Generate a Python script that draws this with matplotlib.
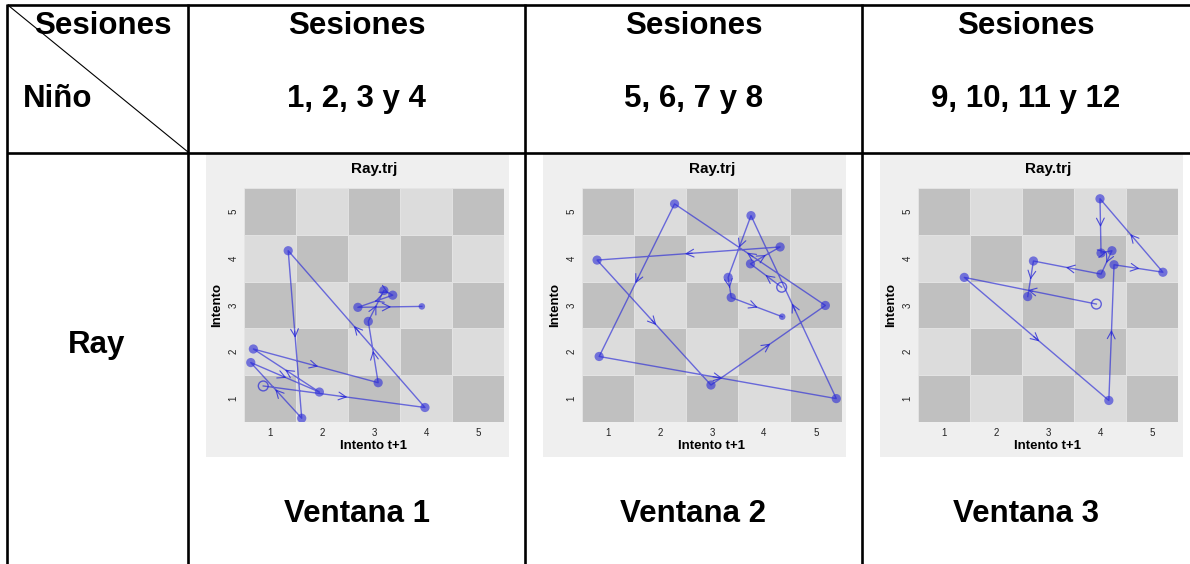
import numpy as np
import matplotlib
matplotlib.use("Agg")
import matplotlib.pyplot as plt
from matplotlib.patches import Rectangle

plt.rcParams['font.family'] = ['Liberation Sans', 'DejaVu Sans']

# ---- table text ----
corner_top = "Sesiones"
corner_bottom = "Niño"
session_titles = ["Sesiones", "Sesiones", "Sesiones"]
session_ranges = ["1, 2, 3 y 4", "5, 6, 7 y 8", "9, 10, 11 y 12"]
child_name = "Ray"
window_labels = ["Ventana 1", "Ventana 2", "Ventana 3"]
plot_title = "Ray.trj"
x_label = "Intento t+1"
y_label = "Intento"
grid_ticks = [1, 2, 3, 4, 5]

# ---- trajectories (first point = start, drawn hollow) ----
w1_x = [0.87, 3.98, 1.35, 1.61, 0.63, 1.95, 0.68, 3.08, 2.89, 3.19, 3.36, 2.69, 3.92]
w1_y = [1.27, 0.81, 4.16, 0.58, 1.77, 1.14, 2.06, 1.34, 2.65, 3.31, 3.21, 2.95, 2.97]

w2_x = [4.34, 3.74, 4.31, 0.79, 2.98, 5.18, 2.28, 0.83, 5.39, 3.75, 3.31, 3.37, 4.35]
w2_y = [3.38, 3.88, 4.24, 3.96, 1.29, 2.99, 5.16, 1.90, 1.00, 4.91, 3.59, 3.16, 2.75]

w3_x = [3.93, 1.39, 4.17, 4.27, 5.21, 4.00, 4.02, 4.23, 4.02, 2.72, 2.61]
w3_y = [3.02, 3.59, 0.96, 3.86, 3.70, 5.27, 4.11, 4.16, 3.66, 3.94, 3.18]

windows = [(w1_x, w1_y, True), (w2_x, w2_y, True), (w3_x, w3_y, False)]

W, H = 1190, 564
fig = plt.figure(figsize=(W / 100, H / 100), dpi=100)
fig.patch.set_facecolor('white')

# overlay axes in pixel coordinates for the table frame
tab = fig.add_axes([0, 0, 1, 1])
tab.set_xlim(0, W)
tab.set_ylim(H, 0)
tab.axis('off')

col_edges = [7, 188, 525, 862, W]
row_top, row_mid = 5, 153
lw_frame = 1.9
tab.plot([7, W], [row_top, row_top], color='black', lw=lw_frame, solid_capstyle='butt')
tab.plot([7, W], [row_mid, row_mid], color='black', lw=lw_frame, solid_capstyle='butt')
for xe in col_edges[:-1]:
    tab.plot([xe, xe], [row_top - 1, H], color='black', lw=lw_frame, solid_capstyle='butt')
tab.plot([9, 188], [6, 152], color='black', lw=0.8)

fs = 22.5
tab.text(103, 26, corner_top, ha='center', va='center', fontsize=fs, fontweight='bold')
tab.text(23, 99, corner_bottom, ha='left', va='center', fontsize=fs, fontweight='bold')
col_centers = [(col_edges[i] + col_edges[i + 1]) / 2 for i in range(1, 4)]
for cx, t1, t2, wl in zip(col_centers, session_titles, session_ranges, window_labels):
    tab.text(cx, 26, t1, ha='center', va='center', fontsize=fs, fontweight='bold')
    tab.text(cx, 99, t2, ha='center', va='center', fontsize=fs, fontweight='bold')
    tab.text(cx, 514, wl, ha='center', va='center', fontsize=fs, fontweight='bold')
tab.text(97, 345, child_name, ha='center', va='center', fontsize=fs, fontweight='bold')

panel_left = [206, 543, 880]
panel_w, panel_top, panel_h = 303, 154, 303
axes_left = [244, 582, 918]
axes_top, axes_w, axes_h = 188, 260, 234

blue = '#2a2ad8'


def frac(x0, y0, w, h):
    return [x0 / W, 1 - (y0 + h) / H, w / W, h / H]


for pl, al, (xs, ys, small_end) in zip(panel_left, axes_left, windows):
    tab.add_patch(Rectangle((pl, panel_top), panel_w, panel_h,
                            facecolor='#efefef', edgecolor='none', zorder=0))
    ax = fig.add_axes(frac(al, axes_top, axes_w, axes_h))
    ax.set_xlim(0.5, 5.5)
    ax.set_ylim(0.5, 5.5)
    for i in grid_ticks:
        for j in grid_ticks:
            shade = '#c0c0c0' if (i + j) % 2 == 0 else '#dcdcdc'
            ax.add_patch(Rectangle((i - 0.5, j - 0.5), 1, 1, facecolor=shade,
                                   edgecolor='#e4e4e4', lw=0.6, zorder=0))
    for s in ax.spines.values():
        s.set_visible(False)
    ax.set_xticks(grid_ticks)
    ax.set_yticks(grid_ticks)
    ax.tick_params(length=0, labelsize=7, pad=4, colors='#222222')
    for lab in ax.get_yticklabels():
        lab.set_rotation(90)
        lab.set_va('center')
    ax.set_title(plot_title, fontsize=11, fontweight='bold', pad=11)
    ax.set_xlabel(x_label, fontsize=9.5, fontweight='bold', labelpad=2)
    ax.set_ylabel(y_label, fontsize=9.5, fontweight='bold', labelpad=4)

    xs_a = np.array(xs)
    ys_a = np.array(ys)
    ax.plot(xs_a, ys_a, color=blue, lw=1.0, alpha=0.65, zorder=2)
    # direction chevrons at the middle of every step
    for k in range(len(xs_a) - 1):
        x0, y0, x1, y1 = xs_a[k], ys_a[k], xs_a[k + 1], ys_a[k + 1]
        mx, my = (x0 + x1) / 2, (y0 + y1) / 2
        dx, dy = (x1 - x0) * 0.02, (y1 - y0) * 0.02
        ax.annotate('', xy=(mx + dx, my + dy), xytext=(mx - dx, my - dy),
                    arrowprops=dict(arrowstyle='->,head_length=0.55,head_width=0.28',
                                    color=blue, lw=0.8, alpha=0.8,
                                    shrinkA=0, shrinkB=0),
                    zorder=3)
    # start marker (hollow)
    ax.scatter(xs_a[:1], ys_a[:1], s=50, facecolors='none', edgecolors=blue,
               linewidths=1.0, alpha=0.7, zorder=4)
    mid = slice(1, len(xs_a) - 1) if small_end else slice(1, len(xs_a))
    ax.scatter(xs_a[mid], ys_a[mid], s=44, color=blue, alpha=0.6,
               edgecolors='none', zorder=4)
    if small_end:
        ax.scatter(xs_a[-1:], ys_a[-1:], s=22, color=blue, alpha=0.6,
                   edgecolors='none', zorder=4)

fig.savefig('out.png', dpi=100, facecolor='white')
